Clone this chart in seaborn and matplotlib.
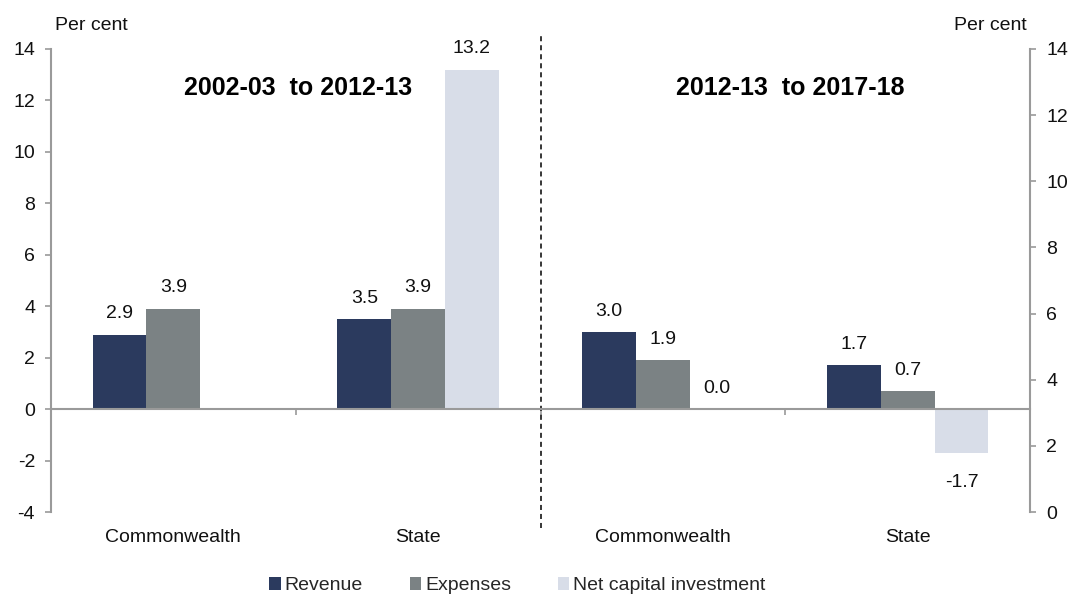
import numpy as np
import pandas as pd
import matplotlib
matplotlib.use("Agg")
import matplotlib.pyplot as plt
import seaborn as sns

# ---- data ----
sectors = ["Commonwealth", "State", "Commonwealth", "State"]
periods = ["2002-03  to 2012-13", "2002-03  to 2012-13",
           "2012-13  to 2017-18", "2012-13  to 2017-18"]
series = ["Revenue", "Expenses", "Net capital investment"]
revenue = [2.9, 3.5, 3.0, 1.7]
expenses = [3.9, 3.9, 1.9, 0.7]
net_capital = [np.nan, 13.2, 0.0, -1.7]
left_ticks = list(range(-4, 15, 2))
right_ticks = list(range(0, 15, 2))
colours = ["#2B3A5E", "#7B8284", "#D8DDE8"]

# long format, one slot per sector/period pair so duplicate names stay apart
slots = [f"{p}|{s}" for p, s in zip(periods, sectors)]
rows = []
for name, vals in zip(series, [revenue, expenses, net_capital]):
    for slot, v in zip(slots, vals):
        rows.append({"slot": slot, "series": name, "value": v})
df = pd.DataFrame(rows).dropna()

sns.set_theme(style="white")
plt.rcParams["font.family"] = ["Liberation Sans", "DejaVu Sans"]
plt.rcParams["axes.edgecolor"] = "#9A9A9A"
plt.rcParams["axes.unicode_minus"] = False

FS = 14
TXT = "#111111"

fig = plt.figure(figsize=(10.78, 5.99), dpi=100)
ax = fig.add_axes([0.0473, 0.1452, 0.9082, 0.773])

sns.barplot(data=df, x="slot", y="value", hue="series", order=slots,
            hue_order=series, palette=colours, width=0.66, saturation=1,
            linewidth=0, ax=ax, legend=True)

# value labels
for cont in ax.containers:
    for bar in cont:
        h = bar.get_height()
        if np.isnan(h):
            continue
        xc = bar.get_x() + bar.get_width() / 2
        off = 15 if h >= 0 else -21
        ax.annotate(f"{h:.1f}", (xc, h), xytext=(0, off),
                    textcoords="offset points", ha="center", va="center",
                    fontsize=FS, color=TXT)

ax.set_ylim(-4, 14)
ax.set_xlim(-0.5, len(slots) - 0.5)
ax.set_yticks(left_ticks)
ax.set_xlabel("")
ax.set_ylabel("")

# category axis drawn along zero, labels pushed below the plot
ax.spines["bottom"].set_position(("data", 0))
ax.spines["top"].set_visible(False)
ax.spines["right"].set_visible(False)
for side in ["left", "bottom"]:
    ax.spines[side].set_linewidth(1.5)
ax.set_xticks(range(len(slots)))
ax.set_xticklabels(sectors)
ax.set_xticks(np.arange(0.5, len(slots) - 1), minor=True)
ax.tick_params(axis="x", which="major", length=0, pad=86, labelsize=FS,
               labelcolor=TXT)
ax.tick_params(axis="x", which="minor", length=4, width=1.2,
               color="#9A9A9A", direction="out", bottom=True)
ax.tick_params(axis="y", length=4.5, width=1.2, color="#9A9A9A",
               direction="out", left=True, pad=7, labelsize=FS,
               labelcolor=TXT)

# secondary axis (ticks only)
ax2 = ax.twinx()
ax2.set_ylim(0, 14)
ax2.set_yticks(right_ticks)
for side in ["left", "bottom", "top"]:
    ax2.spines[side].set_visible(False)
ax2.spines["right"].set_linewidth(1.5)
ax2.tick_params(axis="y", length=4.5, width=1.2, color="#9A9A9A",
                direction="out", right=True, pad=7, labelsize=FS,
                labelcolor=TXT)
ax2.grid(False)

# period divider and headings
ax.axvline(1.5, ymin=-0.034, ymax=1.027, color="black", lw=1.1,
           ls=(0, (3.3, 2.6)), clip_on=False)
ax.text(0.51, 12.5, periods[0], ha="center", va="center", fontsize=18,
        fontweight="bold", color="black")
ax.text(2.52, 12.5, periods[2], ha="center", va="center", fontsize=18,
        fontweight="bold", color="black")

fig.text(0.085, 0.957, "Per cent", ha="center", va="center", fontsize=FS,
         color=TXT)
fig.text(0.919, 0.957, "Per cent", ha="center", va="center", fontsize=FS,
         color=TXT)

handles, labels = ax.get_legend_handles_labels()
ax.get_legend().remove()
fig.legend(handles, labels, loc="center", bbox_to_anchor=(0.48, 0.022),
           ncol=3, frameon=False, fontsize=FS, handlelength=0.6,
           handleheight=0.6, handletextpad=0.2, columnspacing=2.4)

fig.savefig("out.png", dpi=100)
plt.close(fig)
